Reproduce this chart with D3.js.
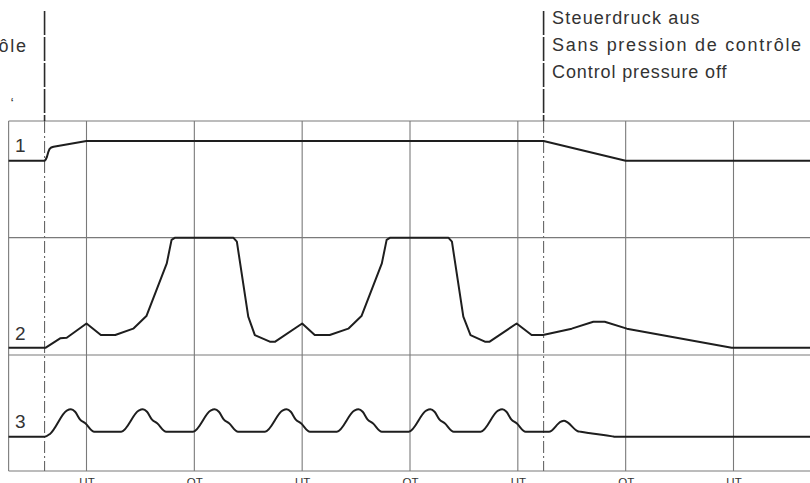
<!DOCTYPE html>
<html>
<head>
<meta charset="utf-8">
<script src="https://cdn.jsdelivr.net/npm/d3@7"></script>
<style>
  html, body { margin: 0; padding: 0; background: #fff; }
  svg { display: block; }
  text { font-family: "Liberation Sans", Arial, sans-serif; fill: #333; }
</style>
</head>
<body>
<svg id="chart" width="810" height="483"></svg>
<script>
// ---- Data (crank angle in degrees, relative signal level 0..1) ----
const tickAngles = [180, 360, 540, 720, 900, 1080, 1260];
const tickLabels = ["UT", "OT", "UT", "OT", "UT", "OT", "UT"];
const trackLabels = ["1", "2", "3"];
const markerAngles = [110, 943];          // control pressure on / off
const textOff = ["Steuerdruck aus", "Sans pression de contrôle", "Control pressure off"];
const textOn  = ["Steuerdruck ein", "Avec pression de contrôle", "Control pressure on"];
const angleExtent = [50, 1400];

const track1 = [
  [50, 0], [110, 0], [112, 0.06], [114, 0.2], [116, 0.42], [118, 0.58], [121, 0.67], [125, 0.71], [180, 1],
  [943, 1], [1080, 0], [1400, 0]
];

const track2 = [
  [50, 0], [112, 0], [136, 0.085], [147, 0.09], [180, 0.22], [204, 0.115], [228, 0.115],
  [258, 0.173], [280, 0.288], [314, 0.767], [322, 0.98], [328, 1], [425, 1], [431, 0.964],
  [450, 0.282], [461, 0.115], [486, 0.055], [495, 0.055], [540, 0.22], [561, 0.115],
  [586, 0.115], [617, 0.173], [639, 0.288], [673, 0.767], [681, 0.98], [687, 1],
  [784, 1], [790, 0.964], [809, 0.282], [821, 0.115], [845, 0.055], [853, 0.055],
  [898, 0.22], [923, 0.115], [942, 0.115], [990, 0.173], [1026, 0.236], [1045, 0.236],
  [1082, 0.173], [1257, 0], [1400, 0]
];

const track3 = [
  [50, 0], [110, 0], [119, 0.1], [147, 0.95], [154, 1], [161, 0.91], [169, 0.635], [178, 0.49], [193, 0.18],
  [238, 0.18], [267, 0.95], [274, 1], [281, 0.91], [289, 0.635], [298, 0.49], [313, 0.18],
  [358, 0.18], [387, 0.95], [394, 1], [401, 0.91], [409, 0.635], [418, 0.49], [433, 0.18],
  [478, 0.18], [507, 0.95], [514, 1], [521, 0.91], [529, 0.635], [538, 0.49], [553, 0.18],
  [598, 0.18], [627, 0.95], [634, 1], [641, 0.91], [649, 0.635], [658, 0.49], [673, 0.18],
  [718, 0.18], [747, 0.95], [754, 1], [761, 0.91], [769, 0.635], [778, 0.49], [793, 0.18],
  [838, 0.18], [867, 0.95], [874, 1], [881, 0.91], [889, 0.635], [898, 0.49], [913, 0.18],
  [952, 0.18], [972, 0.55], [977, 0.58], [983, 0.52], [1000, 0.2], [1005, 0.18],
  [1024, 0.12], [1043, 0.06], [1058, 0.012], [1062, 0], [1400, 0]
];

// ---- Layout ----
const svg = d3.select("#chart");
const x = d3.scaleLinear().domain([180, 1260]).range([86.5, 733.5]);
const rows = [121, 237.7, 355, 471];
const yScales = [
  d3.scaleLinear().domain([0, 1]).range([160.7, 141]),
  d3.scaleLinear().domain([0, 1]).range([347.7, 237.7]),
  d3.scaleLinear().domain([0, 1]).range([436.7, 409.3])
];
const gridColor = "#7a7a7a";
const xLeft = x(angleExtent[0]);

// grid: horizontal
svg.append("g").selectAll("line").data(rows).join("line")
  .attr("x1", xLeft).attr("x2", 810)
  .attr("y1", d => d).attr("y2", d => d)
  .attr("stroke", gridColor).attr("stroke-width", 1.2);

// grid: left border + crank angle lines
svg.append("g").selectAll("line").data([angleExtent[0], ...tickAngles]).join("line")
  .attr("x1", d => x(d)).attr("x2", d => x(d))
  .attr("y1", rows[0]).attr("y2", rows[3])
  .attr("stroke", gridColor).attr("stroke-width", 1.1);

// bottom axis labels
const axis = d3.axisBottom(x).tickValues(tickAngles)
  .tickFormat((d, i) => tickLabels[i]).tickSize(0).tickPadding(7);
const axG = svg.append("g").attr("transform", `translate(0,${rows[3]})`).call(axis);
axG.select(".domain").remove();
axG.selectAll("text").attr("font-size", 11.5).attr("fill", "#444")
  .attr("font-family", "Liberation Sans, Arial, sans-serif").attr("dy", "0.71em");

// markers (dash-dot inside panels, solid above)
markerAngles.forEach(a => {
  svg.append("line")
    .attr("x1", x(a)).attr("x2", x(a)).attr("y1", 11).attr("y2", rows[0])
    .attr("stroke", "#2a2a2a").attr("stroke-width", 1.6).attr("stroke-dasharray", "24,2");
  svg.append("line")
    .attr("x1", x(a)).attr("x2", x(a)).attr("y1", rows[0]).attr("y2", rows[3])
    .attr("stroke", "#666").attr("stroke-width", 1.1).attr("stroke-dasharray", "12,3,2,3");
});

// curves
const tracks = [track1, track2, track3];
const curves = [d3.curveLinear, d3.curveLinear, d3.curveMonotoneX];
tracks.forEach((t, i) => {
  const line = d3.line().x(d => x(d[0])).y(d => yScales[i](d[1])).curve(curves[i]);
  svg.append("path").datum(t).attr("d", line)
    .attr("fill", "none").attr("stroke", "#1e1e1e").attr("stroke-width", 2)
    .attr("stroke-linejoin", "round");
});

// track labels
const labelY = [151.7, 340, 428.3];
svg.append("g").selectAll("text").data(trackLabels).join("text")
  .attr("x", 15).attr("y", (d, i) => labelY[i])
  .attr("font-size", 19).attr("fill", "#222")
  .text(d => d);

// annotation: control pressure off (right)
const offWidths = [147.5, 249, 174.5];
svg.append("g").selectAll("text").data(textOff).join("text")
  .attr("x", x(markerAngles[1]) + 8.5)
  .attr("y", (d, i) => 24 + i * 27.2)
  .attr("font-size", 18)
  .attr("textLength", (d, i) => offWidths[i]).attr("lengthAdjust", "spacing")
  .text(d => d);

// annotation: control pressure on (left, mostly off-canvas)
const onWidth = 250;
const startX = 26 - onWidth;
svg.append("text").attr("x", startX).attr("y", 51.6).attr("font-size", 18)
  .attr("textLength", onWidth).attr("lengthAdjust", "spacing").text(textOn[1]);
svg.append("text").attr("x", startX).attr("y", 24).attr("font-size", 18).text(textOn[0]);
svg.append("text").attr("x", startX).attr("y", 78.6).attr("font-size", 18).text(textOn[2]);
svg.append("text").attr("x", 10.5).attr("y", 108).attr("font-size", 15).attr("fill", "#555").text("‘");
</script>
</body>
</html>
